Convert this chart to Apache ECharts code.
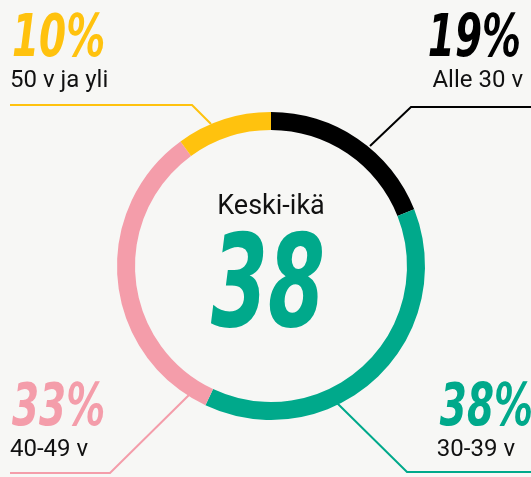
<!DOCTYPE html>
<html>
<head>
<meta charset="utf-8">
<script src="https://cdn.jsdelivr.net/npm/echarts@6/dist/echarts.min.js"></script>
<style>
  html, body { margin: 0; padding: 0; background: #f7f7f5; }
  #chart { width: 531px; height: 477px; }
</style>
</head>
<body>
<div id="chart"></div>
<script>
// age groups, clockwise from the top
const groups = ['Alle 30 v', '30-39 v', '40-49 v', '50 v ja yli']
const shares = [19, 38, 33, 10]
const colors = ['#000000', '#00a98b', '#f49daa', '#ffc20e']
const centerTitle = 'Keski-ikä'
const averageAge = 38

const chart = echarts.init(document.getElementById('chart'))

// no condensed face is installed, so the bold numbers are squeezed
const bigFont = '"DejaVu Sans", sans-serif'
const smallFont = 'Roboto, "Noto Sans", sans-serif'

// where each group's label sits and how its leader line runs
const labelSpots = [
  { x: 521, y: 12, align: 'right', line: [[531, 107], [411, 107], [370, 146]] },
  { x: 533, y: 381, align: 'right', line: [[531, 472], [407, 472], [337, 403]] },
  { x: 10, y: 381, align: 'left', line: [[10, 473], [110, 473], [190, 394]] },
  { x: 10, y: 12, align: 'left', line: [[10, 105], [192, 105], [211, 124]] }
]
const nameX = [523, 515, 10, 10]

const graphics = []
groups.forEach((name, i) => {
  const s = labelSpots[i]
  graphics.push({
    type: 'polyline',
    shape: { points: s.line },
    style: { stroke: colors[i], lineWidth: 2, fill: null },
    z: 1
  })
  graphics.push({
    type: 'text',
    x: s.align === 'left' ? s.x + 2 : s.x,
    y: s.y - 1,
    scaleX: 0.66,
    style: {
      text: shares[i] + '%',
      fill: colors[i],
      font: 'italic bold 59px ' + bigFont,
      align: s.align,
      verticalAlign: 'top'
    }
  })
  graphics.push({
    type: 'text',
    x: nameX[i],
    y: s.y + 57,
    style: {
      text: name,
      fill: '#111111',
      font: '24px ' + smallFont,
      align: s.align,
      verticalAlign: 'top'
    }
  })
})

graphics.push({
  type: 'text',
  x: 271,
  y: 194,
  style: {
    text: centerTitle,
    fill: '#111111',
    font: '27px ' + smallFont,
    align: 'center',
    verticalAlign: 'top'
  }
})
graphics.push({
  type: 'text',
  x: 268,
  y: 229,
  scaleX: 0.64,
  style: {
    text: String(averageAge),
    fill: '#00a98b',
    font: 'italic bold 128px ' + bigFont,
    align: 'center',
    verticalAlign: 'top'
  }
})

const option = {
  backgroundColor: '#f7f7f5',
  animation: false,
  series: [
    {
      type: 'pie',
      center: [271, 266],
      radius: [136, 154],
      startAngle: 90,
      clockwise: true,
      silent: true,
      label: { show: false },
      labelLine: { show: false },
      data: groups.map((name, i) => ({
        name: name,
        value: shares[i],
        itemStyle: { color: colors[i] }
      }))
    }
  ],
  graphic: graphics
}

chart.setOption(option)
window.addEventListener('resize', () => chart.resize())
</script>
</body>
</html>
